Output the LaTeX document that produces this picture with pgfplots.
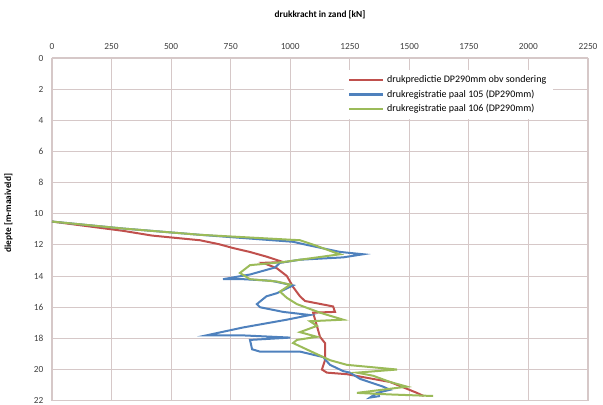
\documentclass[border=0pt]{standalone}
\usepackage{pgfplots}
\pgfplotsset{compat=1.18}
\usepackage{fontspec}
\setmainfont{Carlito}
\definecolor{cred}{RGB}{192,80,77}
\definecolor{cblue}{RGB}{79,129,189}
\definecolor{cgreen}{RGB}{155,187,89}
\definecolor{gridc}{RGB}{214,200,200}
\begin{document}
\begin{tikzpicture}
\begin{axis}[
  scale only axis,
  width=402pt, height=257pt,
  xmin=0, xmax=2250, ymin=0, ymax=22,
  y dir=reverse,
  axis x line*=top,
  xtick={0,250,...,2250},
  ytick={0,2,...,22},
  grid=major,
  major grid style={gridc, line width=0.8pt},
  axis line style={gridc, line width=0.8pt},
  major tick length=0pt,
  tick label style={font=\fontsize{7}{8}\selectfont, text=black!75},
  xticklabel style={yshift=3pt},
  yticklabel style={xshift=-3pt},
  /pgf/number format/assume math mode=true,
  /pgf/number format/set thousands separator={},
  xticklabel pos=upper,
  xlabel={\textbf{drukkracht in zand [kN]}},
  xlabel style={font=\fontsize{7}{8}\selectfont, yshift=11pt},
  ylabel={\textbf{diepte [m-maaiveld]}},
  ylabel style={font=\fontsize{7}{8}\selectfont, yshift=9pt, xshift=12pt},
  legend style={at={(0.935,0.965)}, anchor=north east, draw=none, fill=white,
    font=\fontsize{7.5}{10.5}\selectfont},
  legend image code/.code={\draw[#1, line width=1.6pt] (0cm,0cm) -- (0.9cm,0cm);},
  legend cell align=left,
  clip=true,
]
\addplot[cred, line width=1.5pt] coordinates {
(0,10.5) (150,10.8) (300,11.1) (420,11.4) (520,11.55) (621,11.7) (700,11.95) (760,12.2) (830,12.45) (900,12.75) (970,13.1) (886,13.15) (944,13.5) (986,14.0) (1012,14.7) (1041,15.3) (1062,15.6) (1180,15.95) (1188,16.3) (1096,16.35) (1112,17.2) (1125,17.9) (1146,18.3) (1146,19.4) (1133,20.0) (1154,20.2) (1238,20.3) (1419,20.8) (1532,21.5) (1560,21.7)
};
\addlegendentry{drukpredictie DP290mm obv sondering}
\addplot[cblue, line width=1.5pt] coordinates {
(0,10.5) (300,10.95) (621,11.35) (1012,11.8) (1070,12.0) (1209,12.45) (1306,12.6) (1222,12.8) (1041,12.95) (957,13.15) (936,13.45) (831,13.9) (718,14.2) (802,14.2) (920,14.3) (1012,14.6) (944,15.1) (900,15.3) (860,15.8) (873,16.0) (970,16.3) (1083,16.5) (986,16.8) (802,17.3) (650,17.8) (789,17.8) (1000,17.95) (831,18.1) (840,18.7) (873,18.85) (955,18.85) (1041,18.85) (1138,19.2) (1167,19.7) (1222,20.1) (1251,20.2) (1293,20.6) (1390,21.1) (1419,21.3) (1364,21.5) (1335,21.8) (1377,21.7)
};
\addlegendentry{drukregistratie paal 105 (DP290mm)}
\addplot[cgreen, line width=1.5pt] coordinates {
(0,10.5) (300,10.95) (621,11.35) (1041,11.7) (1100,12.0) (1180,12.45) (1209,12.6) (970,13.1) (831,13.3) (789,13.8) (831,14.2) (944,14.35) (1000,14.55) (957,15.0) (986,15.4) (1028,15.8) (1125,16.35) (1222,16.8) (1083,16.9) (1112,17.2) (1041,17.6) (1112,17.9) (1028,18.1) (1012,18.3) (1096,18.9) (1167,19.4) (1238,19.7) (1448,20.0) (1280,20.2) (1348,20.4) (1419,20.8) (1490,21.1) (1280,21.5) (1419,21.6) (1600,21.7)
};
\addlegendentry{drukregistratie paal 106 (DP290mm)}
\end{axis}
\pgfresetboundingbox
\path[use as bounding box] (-39pt,-3pt) rectangle (413.25pt,300.5pt);
\end{tikzpicture}
\end{document}
